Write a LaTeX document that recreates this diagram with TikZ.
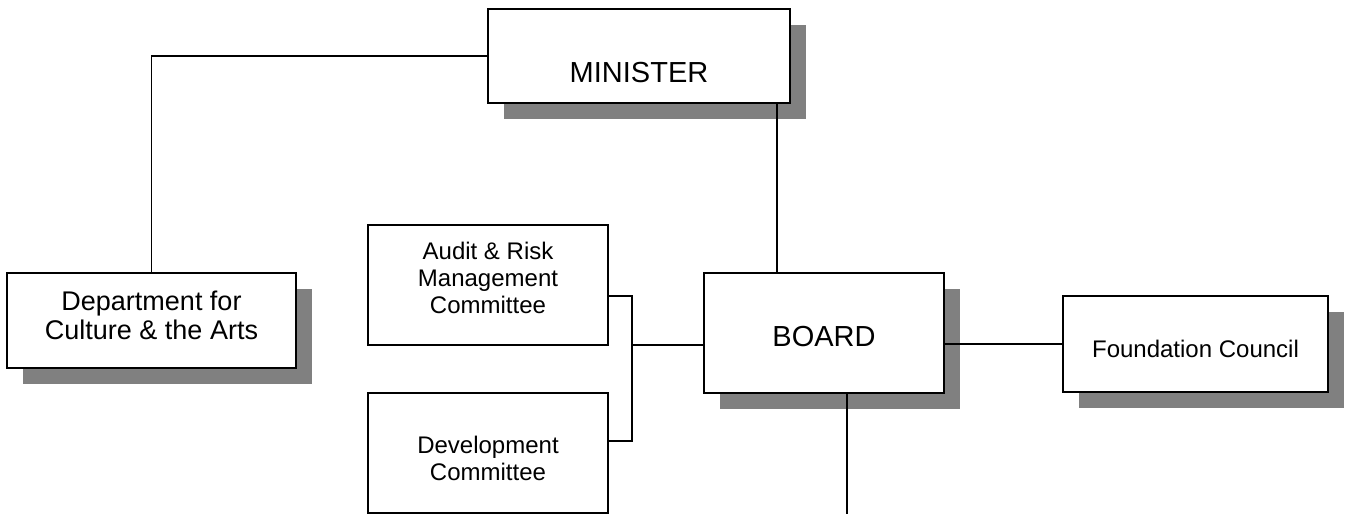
\documentclass[tikz,border=0pt]{standalone}
\usepackage{fontspec}
\setmainfont{Liberation Sans}
\usetikzlibrary{shadows,calc}
\definecolor{shadowgray}{HTML}{808080}
\tikzset{
  plainbox/.style={draw=black, line width=1.6pt, fill=white, rectangle, inner sep=0pt},
  box/.style={plainbox,
    general shadow={fill=shadowgray, shadow xshift=16pt, shadow yshift=-16pt}},
  conn/.style={draw=black, line width=1.6pt},
  bigtxt/.style={font=\fontsize{29}{32}\selectfont, inner sep=0pt},
  midtxt/.style={font=\fontsize{27}{29.5}\selectfont, align=center, inner sep=0pt},
  smalltxt/.style={font=\fontsize{24}{27}\selectfont, align=center, inner sep=0pt}
}
\begin{document}
\begin{tikzpicture}[x=1pt,y=-1pt]
\useasboundingbox (0,0) rectangle (1350,514);
% boxes
\node[box, minimum width=302pt, minimum height=94pt] (minister) at (639,56) {};
\node[box, minimum width=289pt, minimum height=95pt] (dept) at (151.5,320.5) {};
\node[plainbox, minimum width=240pt, minimum height=120pt] (audit) at (488,285) {};
\node[plainbox, minimum width=240pt, minimum height=120pt] (dev) at (488,453) {};
\node[box, minimum width=240pt, minimum height=120pt] (board) at (824,333) {};
\node[box, minimum width=265pt, minimum height=96pt] (found) at (1195.5,344) {};
% texts
\node[bigtxt] (ministerT) at (639,73) {MINISTER};
\node[bigtxt] (boardT) at (824,337) {BOARD};
\node[midtxt] (deptT) at (151.5,315.5) {Department for\\Culture \& the Arts};
\node[smalltxt] (auditT) at (488,278) {Audit \& Risk\\Management\\Committee};
\node[smalltxt] (devT) at (488,458.5) {Development\\Committee};
\node[smalltxt] (foundT) at (1195.5,349) {Foundation Council};
% helper coordinates
\coordinate (mb) at (777,0);
\coordinate (j) at (632,345);
\coordinate (bend) at (847,514);
% connectors
\draw[conn] (minister.west) -| (dept.north);
\draw[conn] (minister.south -| mb) -- (board.north -| mb);
\draw[conn] ([yshift=-11pt]audit.east) -| (j) |- ([yshift=12pt]dev.east);
\draw[conn] (j) -- (board.west |- j);
\draw[conn] (found.west -| board.east) -- (found.west);
\draw[conn] (board.south -| bend) -- (bend);
\end{tikzpicture}
\end{document}
